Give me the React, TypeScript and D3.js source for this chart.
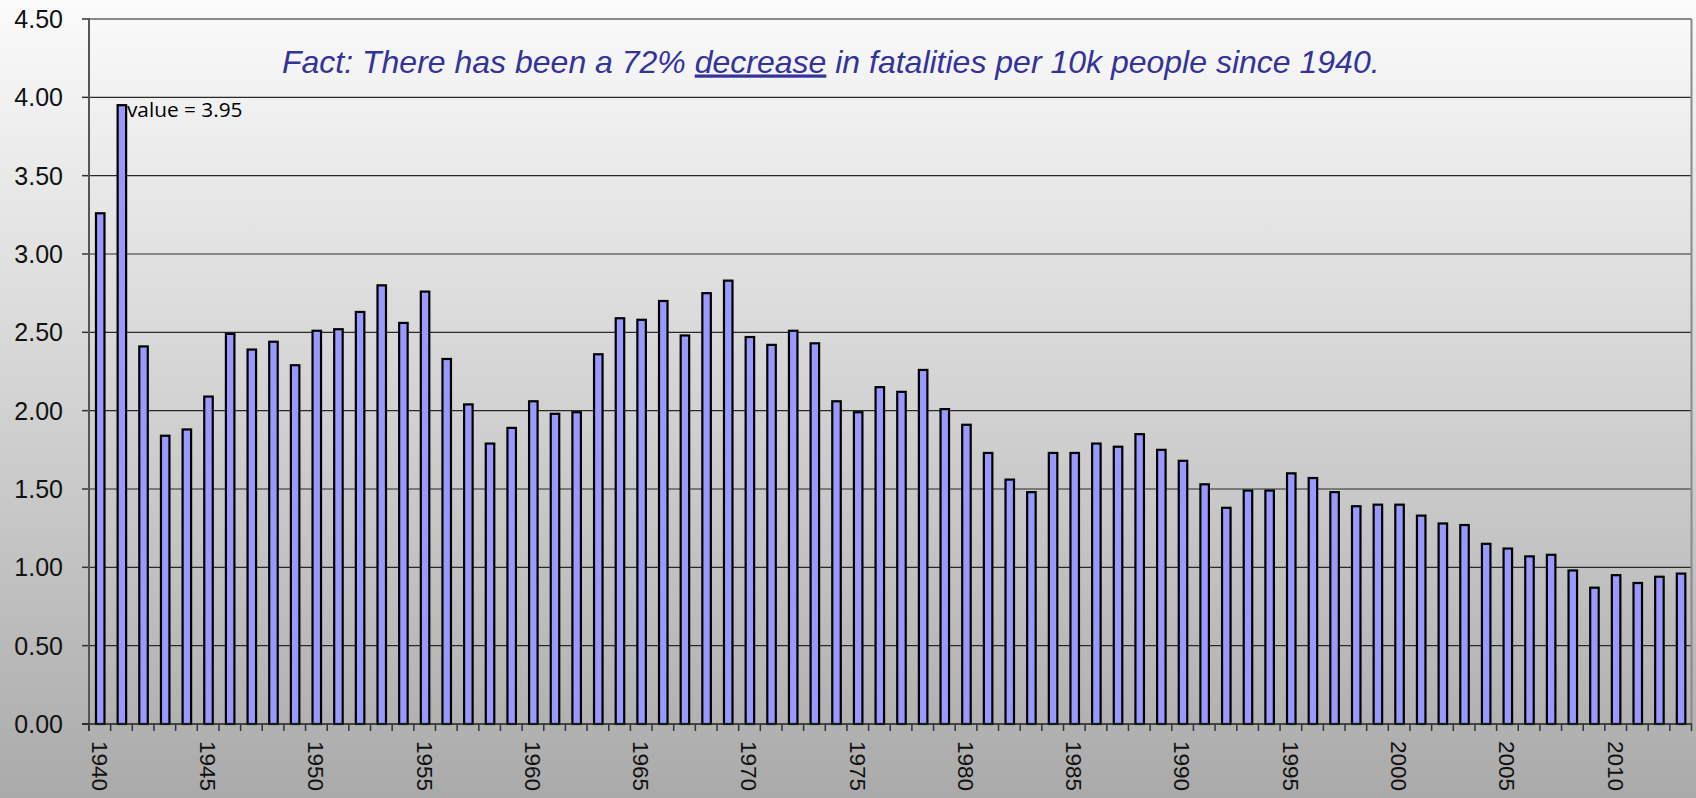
import React from "react";
import * as d3 from "d3";

const years: number[] = d3.range(1940, 2014);
const values: number[] = [
  3.26, 3.95, 2.41, 1.84, 1.88, 2.09, 2.49, 2.39, 2.44, 2.29,
  2.51, 2.52, 2.63, 2.80, 2.56, 2.76, 2.33, 2.04, 1.79, 1.89,
  2.06, 1.98, 1.99, 2.36, 2.59, 2.58, 2.70, 2.48, 2.75, 2.83,
  2.47, 2.42, 2.51, 2.43, 2.06, 1.99, 2.15, 2.12, 2.26, 2.01,
  1.91, 1.73, 1.56, 1.48, 1.73, 1.73, 1.79, 1.77, 1.85, 1.75,
  1.68, 1.53, 1.38, 1.49, 1.49, 1.60, 1.57, 1.48, 1.39, 1.40,
  1.40, 1.33, 1.28, 1.27, 1.15, 1.12, 1.07, 1.08, 0.98, 0.87,
  0.95, 0.90, 0.94, 0.96,
];
const yTicks: number[] = [0, 0.5, 1, 1.5, 2, 2.5, 3, 3.5, 4, 4.5];
const xLabelYears: number[] = [1940, 1945, 1950, 1955, 1960, 1965, 1970, 1975, 1980, 1985, 1990, 1995, 2000, 2005, 2010];
const titleBefore = "Fact: There has been a 72% ";
const titleUnderlined = "decrease";
const titleAfter = " in fatalities per 10k people since 1940.";
const annotationText = "value = 3.95";
const annotationYear = 1941;

const W = 1696;
const H = 798;
const left = 89;
const right = 1691.5;
const top = 19;
const bottom = 724;

export default function App() {
  const x = d3.scaleBand<number>().domain(years).range([left, right]).paddingInner(0).paddingOuter(0);
  const y = d3.scaleLinear().domain([0, 4.5]).range([bottom, top]);
  const step = x.step();
  const barW = 8.5;
  const font = "'Liberation Sans', Arial, sans-serif";

  return (
    <div style={{ position: "absolute", left: 0, top: 0 }}>
      <svg width={W} height={H} style={{ display: "block" }}>
        <defs>
          <linearGradient id="bg" x1="0" y1="0" x2="0" y2="1">
            <stop offset="0" stopColor="#fbfbfb" />
            <stop offset="1" stopColor="#aaaaaa" />
          </linearGradient>
        </defs>
        <rect x={0} y={0} width={W} height={H} fill="url(#bg)" />

        {/* gridlines */}
        {yTicks.filter((t) => t > 0 && t < 4.5).map((t) => (
          <line key={"g" + t} x1={left} x2={right} y1={y(t)} y2={y(t)} stroke="#2a2a2a" strokeWidth={1.2} />
        ))}
        {/* top border and right border */}
        <line x1={left} x2={right} y1={y(4.5)} y2={y(4.5)} stroke="#8a8a8a" strokeWidth={2} />
        <line x1={right} x2={right} y1={y(4.5)} y2={bottom} stroke="#8a8a8a" strokeWidth={2} />

        {/* y ticks & labels */}
        {yTicks.map((t) => (
          <g key={"yt" + t}>
            <line x1={left - 7} x2={left} y1={y(t)} y2={y(t)} stroke="#333" strokeWidth={1.5} />
            <text x={63} y={y(t)} dy="0.36em" textAnchor="end" fontFamily={font} fontSize={25} fill="#111">
              {t.toFixed(2)}
            </text>
          </g>
        ))}

        {/* bars */}
        {years.map((yr, i) => {
          const cx = (x(yr) as number) + step / 2 + 0.4;
          return (
            <rect
              key={"b" + yr}
              x={cx - barW / 2}
              y={y(values[i])}
              width={barW}
              height={bottom - y(values[i])}
              fill="#9999ff"
              stroke="#000"
              strokeWidth={2.2}
            />
          );
        })}

        {/* axes lines */}
        <line x1={left} x2={left} y1={y(4.5) - 1} y2={bottom + 7} stroke="#555" strokeWidth={2} />
        <line x1={left - 7} x2={right} y1={bottom} y2={bottom} stroke="#222" strokeWidth={1.5} />

        {/* x ticks */}
        {years.map((yr) => (
          <line key={"xt" + yr} x1={x(yr) as number} x2={x(yr) as number} y1={bottom} y2={bottom + 7} stroke="#333" strokeWidth={1.5} />
        ))}
        <line x1={right} x2={right} y1={bottom} y2={bottom + 7} stroke="#333" strokeWidth={1.5} />

        {/* x labels */}
        {xLabelYears.map((yr) => {
          const cx = (x(yr) as number) + step / 2;
          const ty = 741;
          return (
            <text
              key={"xl" + yr}
              transform={`translate(${cx},${ty}) rotate(90)`}
              x={0}
              y={0}
              dy="0.36em"
              textAnchor="start"
              fontFamily={font}
              fontSize={22.5}
              fill="#111"
            >
              {yr}
            </text>
          );
        })}

        {/* title */}
        <text x={282} y={72.5} fontFamily={font} fontStyle="italic" fontSize={32} fill="#333399">
          <tspan>{titleBefore}</tspan>
          <tspan textDecoration="underline" style={{ textDecoration: "underline" }}>{titleUnderlined}</tspan>
          <tspan>{titleAfter}</tspan>
        </text>

        {/* annotation */}
        <text
          x={(x(annotationYear) as number) + step / 2 + 5.5}
          y={116.5}
          fontFamily="'Open Sans', sans-serif"
          fontSize={20.8}
          fill="#000"
        >
          {annotationText}
        </text>
      </svg>
    </div>
  );
}
